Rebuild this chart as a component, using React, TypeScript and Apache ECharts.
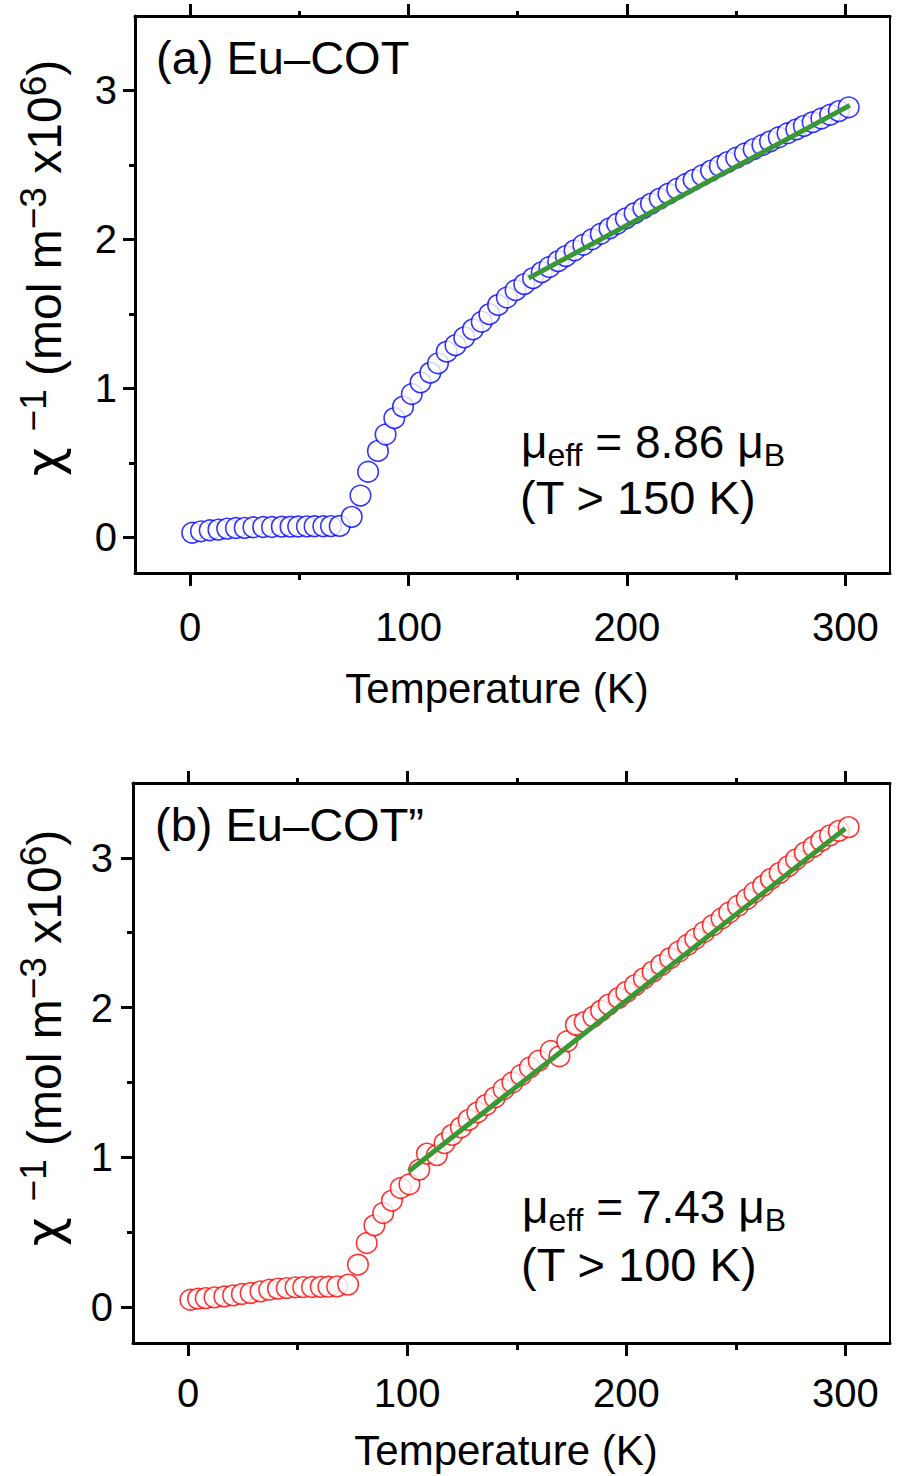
import React, { useEffect, useRef } from "react";
import * as echarts from "echarts";

// Panel (a) Eu–COT : temperature (K) and inverse susceptibility
const tempA = [1, 5, 9, 13, 17, 21, 25, 29, 33.5, 37.5, 42, 46, 49.5, 53.5, 57, 61, 64.5, 68.5, 74, 78, 81.5, 86, 89.5, 93.5, 97.5, 101.5, 105.5, 110, 113.5, 117.5, 121.5, 125.5, 129.5, 133.5, 137, 141, 145, 149, 153, 157, 161, 164.5, 168.5, 172, 176, 180, 184, 188, 192, 195.5, 199.5, 203.5, 207.5, 211, 215, 219, 223, 227, 230.5, 234.5, 238.5, 242.5, 246, 250, 254, 258, 262, 265.5, 269.5, 273.5, 277.5, 281, 285, 289, 293, 297, 301.5];
const chiA = [0.03, 0.04, 0.047, 0.051, 0.058, 0.062, 0.063, 0.067, 0.069, 0.069, 0.071, 0.071, 0.072, 0.073, 0.074, 0.074, 0.075, 0.076, 0.137, 0.28, 0.44, 0.58, 0.69, 0.8, 0.877, 0.962, 1.04, 1.105, 1.168, 1.246, 1.29, 1.342, 1.396, 1.447, 1.498, 1.56, 1.61, 1.659, 1.7, 1.74, 1.78, 1.815, 1.854, 1.888, 1.926, 1.964, 2.001, 2.038, 2.074, 2.105, 2.141, 2.176, 2.21, 2.24, 2.274, 2.307, 2.34, 2.372, 2.4, 2.431, 2.462, 2.493, 2.519, 2.548, 2.577, 2.606, 2.634, 2.658, 2.686, 2.713, 2.739, 2.762, 2.787, 2.812, 2.837, 2.861, 2.887];
const fitTempA = [155, 302];
const fitChiA = [1.74, 2.9];

// Panel (b) Eu–COT''
const tempB = [1, 4.5, 8, 12, 16.5, 20.5, 24.5, 28.5, 33, 37, 41, 45, 49, 52.5, 56.5, 60.5, 64, 68, 73, 77.5, 81.5, 85, 89, 93, 97, 101, 105.5, 109, 113.5, 117, 120.5, 124.5, 128, 132, 136, 140, 144, 148, 152, 156, 160, 165.5, 169.5, 173, 177, 181, 185, 188.5, 192, 196.5, 200, 204, 208, 212, 216, 220, 224, 228, 231.5, 235.5, 239.5, 243.5, 247, 251, 255, 258.5, 262.5, 266, 270, 274, 277.5, 281.5, 285.5, 289, 293, 297, 301.5];
const chiB = [0.049, 0.056, 0.06, 0.065, 0.071, 0.078, 0.087, 0.094, 0.105, 0.116, 0.123, 0.127, 0.132, 0.133, 0.134, 0.135, 0.136, 0.138, 0.15, 0.283, 0.428, 0.546, 0.628, 0.711, 0.795, 0.82, 0.918, 1.025, 1.015, 1.095, 1.15, 1.2, 1.25, 1.3, 1.35, 1.4, 1.455, 1.5, 1.55, 1.6, 1.645, 1.71, 1.675, 1.775, 1.885, 1.905, 1.94, 1.98, 2.02, 2.065, 2.105, 2.15, 2.195, 2.24, 2.285, 2.33, 2.375, 2.42, 2.46, 2.505, 2.55, 2.595, 2.635, 2.68, 2.725, 2.77, 2.815, 2.86, 2.9, 2.945, 2.99, 3.035, 3.075, 3.115, 3.15, 3.18, 3.205];
const fitTempB = [100.7, 300];
const fitChiB = [0.907, 3.196];

// Axis ticks
const xMajorTicks = [0, 100, 200, 300];
const xMinorTicks = [50, 150, 250];
const yMajorTicks = [0, 1, 2, 3];
const yMinorTicks = [0.5, 1.5, 2.5];
const xRange = [-25.2, 320.4];
const yRange = [-0.24, 3.5];

const FONT = "'Liberation Sans', Arial, Helvetica, sans-serif";
const GREEK = "'DejaVu Sans', 'Liberation Sans', sans-serif";
const BLACK = "#000";
const GREEN = "#3a9834";

function xAxes(gi: number, labelMargin: number) {
  const base = (pos: string, ticks: number[], len: number, line: boolean, label: boolean) => ({
    type: "value",
    gridIndex: gi,
    position: pos,
    min: xRange[0],
    max: xRange[1],
    axisLine: { show: line, onZero: false, lineStyle: { color: BLACK, width: 3 } },
    axisTick: { show: true, inside: false, length: len, customValues: ticks, lineStyle: { color: BLACK, width: 3 } },
    axisLabel: label
      ? { show: true, customValues: ticks, margin: labelMargin, fontSize: 40, color: BLACK, fontFamily: FONT }
      : { show: false },
    splitLine: { show: false },
  });
  return [
    base("bottom", xMajorTicks, 13, true, true),
    base("bottom", xMinorTicks, 7, false, false),
    base("top", xMajorTicks, 12, true, false),
    base("top", xMinorTicks, 5, false, false),
  ];
}

function yAxes(gi: number, labelMargin: number) {
  const base = (pos: string, ticks: number[], len: number, line: boolean, label: boolean, showTick = true, lw = 3) => ({
    type: "value",
    gridIndex: gi,
    position: pos,
    min: yRange[0],
    max: yRange[1],
    axisLine: { show: line, onZero: false, lineStyle: { color: BLACK, width: lw } },
    axisTick: { show: showTick, inside: false, length: len, customValues: ticks, lineStyle: { color: BLACK, width: 3 } },
    axisLabel: label
      ? { show: true, customValues: ticks, margin: labelMargin, fontSize: 40, color: BLACK, fontFamily: FONT }
      : { show: false },
    splitLine: { show: false },
  });
  return [
    base("left", yMajorTicks, 12, true, true),
    base("left", yMinorTicks, 6, false, false),
    base("right", yMajorTicks, 0, true, false, false, 2),
  ];
}

const pairs = (xs: number[], ys: number[]) => xs.map((x, i) => [x, ys[i]]);

function yTitle(x: number, y: number) {
  return {
    type: "text",
    x,
    y,
    rotation: Math.PI / 2,
    style: {
      text: "{c|χ }{s|−1}{n| (mol m}{s|−3}{n| x10}{s|6}{n|)}",
      align: "center",
      verticalAlign: "middle",
      textAlign: "center",
      textVerticalAlign: "middle",
      fill: BLACK,
      rich: {
        c: { fontSize: 50, fontFamily: GREEK, fill: BLACK, color: BLACK, lineHeight: 58 },
        n: { fontSize: 48, fontFamily: FONT, fill: BLACK, color: BLACK, lineHeight: 58 },
        s: { fontSize: 37, fontFamily: FONT, fill: BLACK, color: BLACK, lineHeight: 36, verticalAlign: "top" },
      },
    },
  };
}

function plainText(x: number, y: number, text: string, size: number, align = "left") {
  return {
    type: "text",
    x,
    y,
    style: {
      text,
      fontSize: size,
      fontFamily: FONT,
      fill: BLACK,
      align,
      verticalAlign: "middle",
      textAlign: align,
      textVerticalAlign: "middle",
    },
  };
}

function muText(x: number, y: number, value: string) {
  return {
    type: "text",
    x,
    y,
    style: {
      text: "{n|μ}{b|eff}{n| = " + value + " μ}{b|B}",
      align: "left",
      verticalAlign: "middle",
      textAlign: "left",
      textVerticalAlign: "middle",
      fill: BLACK,
      rich: {
        n: { fontSize: 46, fontFamily: FONT, fill: BLACK, color: BLACK, lineHeight: 58 },
        b: { fontSize: 32, fontFamily: FONT, fill: BLACK, color: BLACK, lineHeight: 32, verticalAlign: "bottom" },
      },
    },
  };
}

export default function App() {
  const ref = useRef<HTMLDivElement>(null);
  useEffect(() => {
    if (!ref.current) return;
    const chart = echarts.init(ref.current, undefined, { renderer: "svg" });
    const option: any = {
      animation: false,
      backgroundColor: "#fff",
      grid: [
        { left: 135, top: 16, width: 755, height: 557 },
        { left: 133, top: 783, width: 757, height: 560 },
      ],
      xAxis: [...xAxes(0, 34), ...xAxes(1, 30)],
      yAxis: [...yAxes(0, 18), ...yAxes(1, 20)],
      series: [
        {
          type: "scatter",
          xAxisIndex: 0,
          yAxisIndex: 0,
          data: pairs(tempA, chiA),
          symbol: "circle",
          symbolSize: 20.5,
          itemStyle: { color: "#fff", borderColor: "#0000ff", borderWidth: 1.6 },
          emphasis: { disabled: true },
          z: 3,
        },
        {
          type: "line",
          xAxisIndex: 0,
          yAxisIndex: 0,
          data: pairs(fitTempA, fitChiA),
          symbol: "none",
          lineStyle: { color: GREEN, width: 5 },
          emphasis: { disabled: true },
          z: 4,
        },
        {
          type: "scatter",
          xAxisIndex: 4,
          yAxisIndex: 3,
          data: pairs(tempB, chiB),
          symbol: "circle",
          symbolSize: 20.5,
          itemStyle: { color: "#fff", borderColor: "#ff0000", borderWidth: 1.6 },
          emphasis: { disabled: true },
          z: 3,
        },
        {
          type: "line",
          xAxisIndex: 4,
          yAxisIndex: 3,
          data: pairs(fitTempB, fitChiB),
          symbol: "none",
          lineStyle: { color: GREEN, width: 5 },
          emphasis: { disabled: true },
          z: 4,
        },
      ],
      graphic: [
        plainText(156, 57, "(a) Eu–COT", 47),
        plainText(155, 824, "(b) Eu–COT”", 47),
        muText(521, 442, "8.86"),
        plainText(520, 497, "(T > 150 K)", 47),
        muText(522, 1207, "7.43"),
        plainText(521, 1264, "(T > 100 K)", 47),
        plainText(497, 688, "Temperature (K)", 42, "center"),
        plainText(506, 1450, "Temperature (K)", 42, "center"),
        yTitle(44, 268),
        yTitle(44, 1038),
      ],
    };
    chart.setOption(option);
    return () => chart.dispose();
  }, []);
  return (
    <div
      ref={ref}
      style={{ position: "absolute", left: 0, top: 0, width: 901, height: 1476, background: "#fff" }}
    />
  );
}
